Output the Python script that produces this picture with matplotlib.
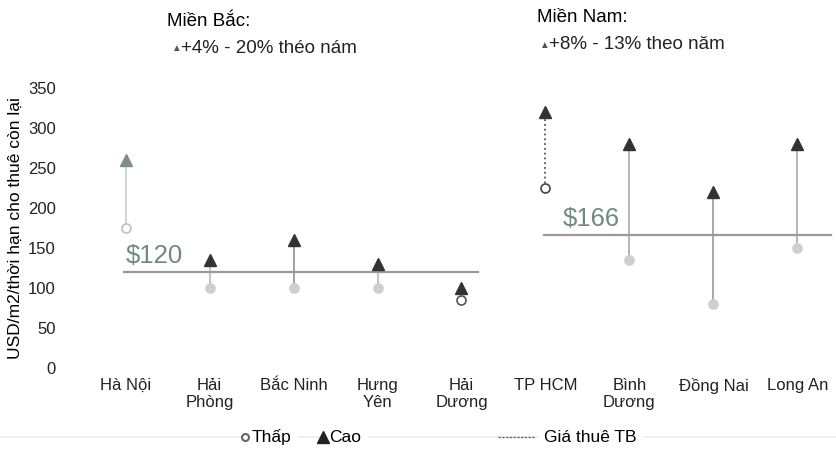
import matplotlib.pyplot as plt
from matplotlib.lines import Line2D

plt.rcParams['font.family'] = ['Liberation Sans', 'DejaVu Sans']

# giá thuê đất KCN theo tỉnh (USD/m2/thời hạn còn lại)
provinces = ["Hà Nội", "Hải\nPhòng", "Bắc Ninh", "Hưng\nYên", "Hải\nDương",
             "TP HCM", "Bình\nDương", "Đồng Nai", "Long An"]
low = [175, 100, 100, 100, 85, 225, 135, 80, 150]
high = [260, 135, 160, 130, 100, 320, 280, 220, 280]
north_avg = 120
south_avg = 166
yticks = [0, 50, 100, 150, 200, 250, 300, 350]

fig = plt.figure(figsize=(8.36, 4.68), dpi=100)
ax = fig.add_axes([0.1, 0.214, 0.904, 0.598])

x = list(range(len(provinces)))
stem_colors = ["#d0d0d0", "#bdbdbd", "#9a9a9a", "#bdbdbd", "#ffffff",
               "#555555", "#b0b0b0", "#a0a0a0", "#b0b0b0"]
stem_styles = ["-", "-", "-", "-", "-", ":", "-", "-", "-"]
for i in x:
    ax.plot([i, i], [low[i], high[i]], color=stem_colors[i], lw=1.3,
            ls=stem_styles[i], zorder=1)

tri_colors = ["#7d918a"] + ["#333333"] * 8
for i in x:
    ax.plot(i, high[i], marker="^", ms=9, color=tri_colors[i], ls="none", zorder=3)

dot_face = ["white", "#cfcfcf", "#cfcfcf", "#cfcfcf", "white",
            "white", "#cfcfcf", "#cfcfcf", "#cfcfcf"]
dot_edge = ["#c0c0c0", "#cfcfcf", "#cfcfcf", "#cfcfcf", "#555555",
            "#444444", "#cfcfcf", "#cfcfcf", "#cfcfcf"]
for i in x:
    ax.plot(i, low[i], marker="o", ms=6.5, mfc=dot_face[i], mec=dot_edge[i],
            mew=1.2, ls="none", zorder=3)

# đường giá thuê trung bình từng miền
ax.plot([-0.02, 4.2], [north_avg, north_avg], color="#9a9a9a", lw=1.6, zorder=2)
ax.plot([4.98, 8.4], [south_avg, south_avg], color="#9a9a9a", lw=1.6, zorder=2)
ax.text(0.0, north_avg + 5, f"${north_avg}", color="#6f8a80", fontsize=18.5,
        ha="left", va="bottom")
ax.text(5.2, south_avg + 5, f"${south_avg}", color="#6f8a80", fontsize=18.5,
        ha="left", va="bottom")

ax.set_xlim(-0.5, 8.5)
ax.set_ylim(0, 350)
ax.set_yticks(yticks)
ax.set_xticks(x)
ax.set_xticklabels(provinces, fontsize=12, linespacing=1.2)
ax.tick_params(axis="both", length=0, labelsize=12, colors="#222222")
ax.tick_params(axis="x", pad=7)
ax.tick_params(axis="y", pad=20)
for s in ax.spines.values():
    s.set_visible(False)
ax.set_ylabel("USD/m2/thời hạn cho thuê còn lại", fontsize=12.5, labelpad=4)

# chú thích tăng trưởng theo miền
fig.text(0.2, 0.955, "Miền Bắc:", fontsize=13.5, ha="left", va="center")
fig.text(0.204, 0.897, "▲", fontsize=7, ha="left", va="center", color="#555555")
fig.text(0.216, 0.897, "+4% - 20% théo nám", fontsize=13.5, ha="left", va="center",
         color="#222222")
fig.text(0.642, 0.962, "Miền Nam:", fontsize=13.5, ha="left", va="center")
fig.text(0.645, 0.904, "▲", fontsize=7, ha="left", va="center", color="#555555")
fig.text(0.657, 0.904, "+8% - 13% theo năm", fontsize=13.5, ha="left", va="center",
         color="#222222")

# đường mờ phía sau chú giải
legend_y = 0.066
fig.add_artist(Line2D([0.0, 1.0], [legend_y, legend_y], color="#ececec", lw=1.2,
                      zorder=0))

# chú giải
fig.add_artist(Line2D([0.293], [legend_y], marker="o", ms=5, mfc="white",
                      mec="#666666", mew=1.5, ls="none", zorder=6))
fig.text(0.301, legend_y, "Thấp", fontsize=12.5, ha="left", va="center",
         backgroundcolor="white")
fig.add_artist(Line2D([0.386], [legend_y], marker="^", ms=8, color="#222222",
                      ls="none", zorder=6))
fig.text(0.394, legend_y, "Cao", fontsize=12.5, ha="left", va="center",
         backgroundcolor="white")
fig.add_artist(Line2D([0.596, 0.64], [legend_y, legend_y], color="#666666",
                      lw=0.9, ls=(0, (2, 1)), zorder=6))
fig.text(0.651, legend_y, "Giá thuê TB", fontsize=12.5, ha="left", va="center",
         backgroundcolor="white")

fig.savefig("out.png", dpi=100)
